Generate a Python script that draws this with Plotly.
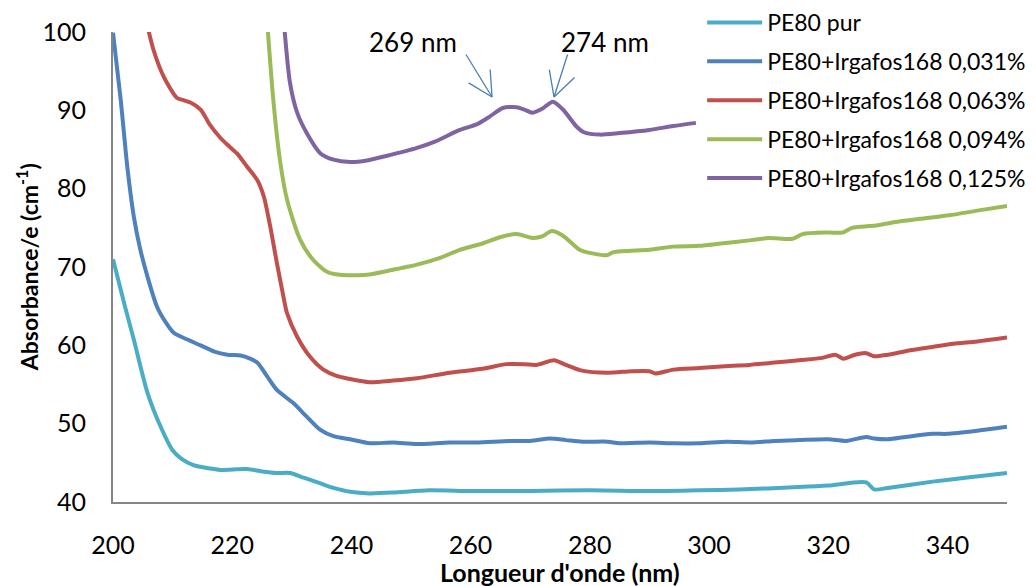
import plotly.graph_objects as go

# ---- data (wavelength nm, absorbance/e cm-1) ----
pur_x = [200, 201, 202, 203.5, 205.8, 208, 210, 211.5, 213.5, 216, 218, 222.5, 225, 227.5, 229.7, 232, 234.7, 237, 239.8,
         243, 247, 253, 260, 270, 280, 290, 298.4, 305, 315, 320, 326.4, 327.7, 330, 337.5, 343, 350]
pur_y = [71, 68, 65, 60.7, 53.9, 49.6, 46.6, 45.5, 44.7, 44.3, 44.1, 44.2, 43.9, 43.7, 43.7, 43.1, 42.4, 41.8, 41.3,
         41.1, 41.2, 41.5, 41.4, 41.4, 41.5, 41.4, 41.5, 41.6, 41.9, 42.1, 42.5, 41.6, 41.8, 42.6, 43.1, 43.7]

c031_x = [200, 201.3, 202.4, 203.5, 204.5, 205.7, 207.4, 208.8, 210.2, 212, 214.7, 217, 219.2, 221.4, 223, 224.2, 225.9,
          227.5, 230.3, 232.5, 234.8, 237, 239.8, 243.1, 247, 250.9, 256.5, 261, 266.6, 270, 273.3, 276, 278.8, 283,
          285, 290, 294, 298.4, 303, 307, 311, 315, 320, 323, 326.4, 327.7, 330, 333, 337.5, 340, 345, 350]
c031_y = [99.9, 91.3, 82.8, 76.4, 72.5, 69, 64.9, 63, 61.6, 60.9, 60, 59.2, 58.8, 58.7, 58.3, 57.8, 56,
          54.3, 52.6, 50.9, 49.2, 48.4, 48, 47.5, 47.6, 47.4, 47.6, 47.6, 47.8, 47.8, 48.1, 47.9, 47.7, 47.7,
          47.5, 47.6, 47.5, 47.5, 47.7, 47.6, 47.8, 47.9, 48, 47.8, 48.3, 48.1, 48, 48.3, 48.7, 48.7, 49.1, 49.6]

c063_x = [205.7, 206.8, 208.5, 210.7, 211.8, 213, 214.7, 216.3, 218, 219.2, 220.8, 222.5, 224.2, 225.3, 226.4, 227.5,
          228.6, 229.2, 230.9, 233.1, 235.3, 237.5, 239.8, 243, 247, 251, 256.5, 262, 266, 269, 271, 274, 276, 278.5,
          283, 287, 290, 291, 294, 298.4, 302, 306.8, 311, 315.1, 319, 321.2, 322.6, 324.5, 326.4, 327.7, 330, 334,
          337.5, 341, 345, 350]
c063_y = [101, 97.7, 94.3, 91.6, 91.3, 91, 90.1, 88.1, 86.5, 85.6, 84.5, 82.8, 81.1, 79, 75.1, 70.5,
          66.2, 64.1, 61.1, 58.5, 56.9, 56.1, 55.7, 55.3, 55.5, 55.8, 56.5, 57, 57.6, 57.6, 57.5, 58.1, 57.5, 56.8,
          56.5, 56.7, 56.7, 56.4, 56.9, 57.1, 57.3, 57.5, 57.8, 58.1, 58.4, 58.8, 58.3, 58.8, 59, 58.6, 58.8, 59.4,
          59.8, 60.2, 60.5, 61]

c094_x = [225.9, 226.9, 228, 229.2, 231.4, 233.6, 235.9, 238.1, 242.6, 246, 251, 255, 258.2, 262, 264.9, 267.7, 270.4,
          272, 273.6, 275.5, 278.3, 280, 282.8, 284, 290, 294, 298.4, 302, 306.8, 310, 314, 315.7, 320, 322.4, 324,
          328, 331.9, 336, 340.3, 345, 350]
c094_y = [101, 91.3, 83.7, 78.6, 73.5, 70.9, 69.4, 69, 69, 69.5, 70.3, 71.2, 72.2, 73, 73.8, 74.2, 73.7,
          73.9, 74.6, 74, 72.2, 71.8, 71.5, 71.9, 72.2, 72.6, 72.7, 73, 73.4, 73.7, 73.6, 74.2, 74.4, 74.4, 75,
          75.3, 75.8, 76.2, 76.6, 77.2, 77.8]

c125_x = [228.7, 229.7, 230.9, 232.5, 234.8, 237, 239.8, 242.6, 246, 251, 254, 258.2, 261, 263.2, 265.4, 267.7, 269,
          270.4, 272, 273.8, 275.5, 277.8, 279, 281.7, 285, 290, 294, 297.8]
c125_y = [101, 93.5, 89.7, 87.1, 84.5, 83.7, 83.4, 83.6, 84.2, 85.2, 86, 87.5, 88.2, 89.2, 90.3, 90.4, 90.1,
          89.7, 90.2, 91.1, 90.1, 87.9, 87.2, 86.9, 87.1, 87.5, 88, 88.4]

series_names = ["PE80 pur", "PE80+Irgafos168 0,031%", "PE80+Irgafos168 0,063%",
                "PE80+Irgafos168 0,094%", "PE80+Irgafos168 0,125%"]
series_x = [pur_x, c031_x, c063_x, c094_x, c125_x]
series_y = [pur_y, c031_y, c063_y, c094_y, c125_y]
colors = ["#4BACC6", "#4F81BD", "#C0504D", "#9BBB59", "#8064A2"]

x_ticks = [200, 220, 240, 260, 280, 300, 320, 340]
y_ticks = [40, 50, 60, 70, 80, 90, 100]

FONT = "Lato, 'Open Sans', sans-serif"

fig = go.Figure()
for i, (name, xs, ys, col) in enumerate(zip(series_names, series_x, series_y, colors)):
    fig.add_trace(go.Scatter(x=xs, y=ys, mode="lines", name=name, legendgroup=f"g{i}",
                             line=dict(color=col, width=4, shape="spline", smoothing=0.7)))

arrow_col = "#4A7EBB"
# annotation arrows (tip in data coords, tails as pixel offsets)
arrows = [
    (263.6, 91.7, [(-27, -44), (-25, -15), (-2, -29)]),
    (274.0, 91.7, [(14, -44), (-5, -29), (22, -21)]),
]
annotations = []
for tx, ty, offs in arrows:
    for ax, ay in offs:
        annotations.append(dict(x=tx, y=ty, xref="x", yref="y", ax=ax, ay=ay, axref="pixel", ayref="pixel",
                                text="", showarrow=True, arrowhead=0, arrowwidth=1.3, arrowcolor=arrow_col,
                                standoff=0, startstandoff=0))
annotations.append(dict(x=250.3, y=98.75, xref="x", yref="y", text="269 nm", showarrow=False,
                        font=dict(size=26, color="#000000", family=FONT)))
annotations.append(dict(x=282.5, y=98.75, xref="x", yref="y", text="274 nm", showarrow=False,
                        font=dict(size=26, color="#000000", family=FONT)))
# axis titles
annotations.append(dict(x=0.5, y=-0.149, xref="paper", yref="paper", xanchor="center", yanchor="middle",
                        text="<b>Longueur d'onde (nm)</b>", showarrow=False,
                        font=dict(size=25, color="#000000", family=FONT)))
annotations.append(dict(x=-0.096, y=0.5, xref="paper", yref="paper", xanchor="center", yanchor="middle",
                        text="<b>Absorbance/e (cm<sup>-1</sup>)</b>", showarrow=False, textangle=-90,
                        font=dict(size=23, color="#000000", family=FONT)))

fig.update_layout(
    width=1028, height=578,
    margin=dict(l=105, r=29, t=24, b=84, autoexpand=False),
    paper_bgcolor="white", plot_bgcolor="white",
    font=dict(family=FONT, size=25, color="#000000"),
    showlegend=True,
    legend=dict(x=0.659, y=1.066, xanchor="left", yanchor="top", bgcolor="rgba(255,255,255,1)",
                font=dict(size=23, family=FONT), itemwidth=55, tracegroupgap=6, traceorder="grouped"),
    annotations=annotations,
    xaxis=dict(range=[200, 350], tickvals=x_ticks, showgrid=False, zeroline=False,
               showline=True, linecolor="#868686", linewidth=2, ticks="",
               ticklabelstandoff=20, automargin=False, tickfont=dict(size=25)),
    yaxis=dict(range=[40, 100], tickvals=y_ticks, showgrid=False, zeroline=False,
               showline=True, linecolor="#868686", linewidth=2, ticks="",
               ticklabelstandoff=20, automargin=False, tickfont=dict(size=25)),
)

fig.write_html("out.html")
